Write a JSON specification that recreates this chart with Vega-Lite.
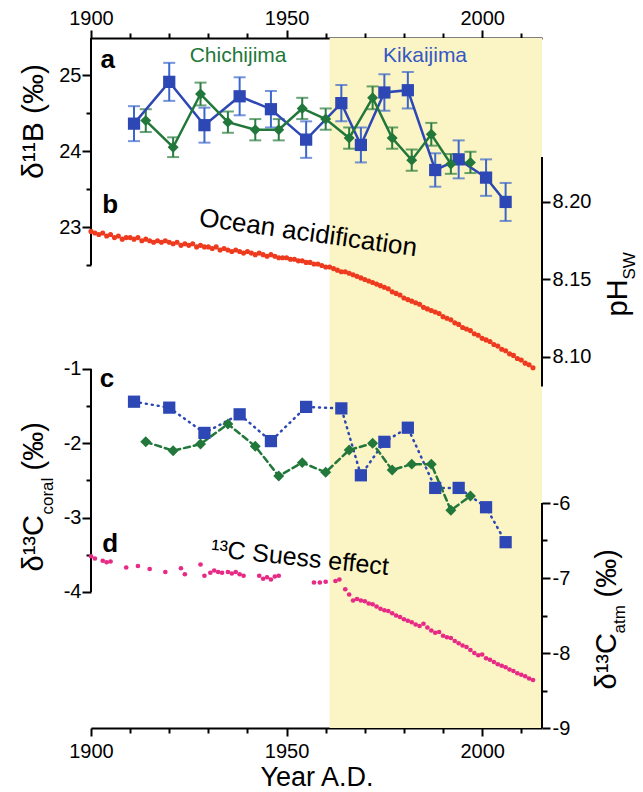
{
  "$schema": "https://vega.github.io/schema/vega-lite/v6.json",
  "width": 451,
  "height": 690,
  "autosize": {"type": "none"},
  "padding": {"left": 91, "top": 38, "right": 101, "bottom": 64},
  "background": "white",
  "config": {
    "font": "Liberation Sans",
    "view": {"stroke": null},
    "axis": {
      "domainColor": "black", "domainWidth": 2, "tickColor": "black", "tickWidth": 2,
      "labelFontSize": 20, "labelColor": "black", "labelFont": "Liberation Sans",
      "titleColor": "black", "titleFont": "Liberation Sans", "titleFontWeight": "normal",
      "grid": false, "labelOverlap": false, "labelFlush": false
    }
  },
  "datasets": {
    "boron": [
      {"site": "Kikaijima", "year": 1911, "v": 24.36, "err": 0.23},
      {"site": "Kikaijima", "year": 1920, "v": 24.91, "err": 0.25},
      {"site": "Kikaijima", "year": 1929, "v": 24.34, "err": 0.23},
      {"site": "Kikaijima", "year": 1938, "v": 24.72, "err": 0.25},
      {"site": "Kikaijima", "year": 1946, "v": 24.55, "err": 0.24},
      {"site": "Kikaijima", "year": 1955, "v": 24.15, "err": 0.24},
      {"site": "Kikaijima", "year": 1964, "v": 24.63, "err": 0.24},
      {"site": "Kikaijima", "year": 1969, "v": 24.08, "err": 0.23},
      {"site": "Kikaijima", "year": 1975, "v": 24.77, "err": 0.24},
      {"site": "Kikaijima", "year": 1981, "v": 24.8, "err": 0.24},
      {"site": "Kikaijima", "year": 1988, "v": 23.75, "err": 0.22},
      {"site": "Kikaijima", "year": 1994, "v": 23.89, "err": 0.25},
      {"site": "Kikaijima", "year": 2001, "v": 23.65, "err": 0.24},
      {"site": "Kikaijima", "year": 2006, "v": 23.33, "err": 0.25},
      {"site": "Chichijima", "year": 1914, "v": 24.4, "err": 0.15},
      {"site": "Chichijima", "year": 1921, "v": 24.05, "err": 0.13},
      {"site": "Chichijima", "year": 1928, "v": 24.75, "err": 0.15},
      {"site": "Chichijima", "year": 1935, "v": 24.38, "err": 0.14},
      {"site": "Chichijima", "year": 1942, "v": 24.28, "err": 0.14},
      {"site": "Chichijima", "year": 1948, "v": 24.28, "err": 0.14},
      {"site": "Chichijima", "year": 1954, "v": 24.56, "err": 0.14},
      {"site": "Chichijima", "year": 1960, "v": 24.42, "err": 0.14},
      {"site": "Chichijima", "year": 1966, "v": 24.17, "err": 0.14},
      {"site": "Chichijima", "year": 1972, "v": 24.7, "err": 0.15},
      {"site": "Chichijima", "year": 1977, "v": 24.17, "err": 0.14},
      {"site": "Chichijima", "year": 1982, "v": 23.88, "err": 0.14},
      {"site": "Chichijima", "year": 1987, "v": 24.22, "err": 0.15},
      {"site": "Chichijima", "year": 1992, "v": 23.83, "err": 0.13},
      {"site": "Chichijima", "year": 1997, "v": 23.85, "err": 0.14}
    ],
    "coral": [
      {"site": "Kikaijima", "year": 1911, "v": -1.44},
      {"site": "Kikaijima", "year": 1920, "v": -1.52},
      {"site": "Kikaijima", "year": 1929, "v": -1.86},
      {"site": "Kikaijima", "year": 1938, "v": -1.61},
      {"site": "Kikaijima", "year": 1946, "v": -1.97},
      {"site": "Kikaijima", "year": 1955, "v": -1.51},
      {"site": "Kikaijima", "year": 1964, "v": -1.53},
      {"site": "Kikaijima", "year": 1969, "v": -2.43},
      {"site": "Kikaijima", "year": 1975, "v": -1.98},
      {"site": "Kikaijima", "year": 1981, "v": -1.79},
      {"site": "Kikaijima", "year": 1988, "v": -2.6},
      {"site": "Kikaijima", "year": 1994, "v": -2.6},
      {"site": "Kikaijima", "year": 2001, "v": -2.86},
      {"site": "Kikaijima", "year": 2006, "v": -3.33},
      {"site": "Chichijima", "year": 1914, "v": -1.98},
      {"site": "Chichijima", "year": 1921, "v": -2.1},
      {"site": "Chichijima", "year": 1928, "v": -2.01},
      {"site": "Chichijima", "year": 1935, "v": -1.74},
      {"site": "Chichijima", "year": 1942, "v": -2.04},
      {"site": "Chichijima", "year": 1948, "v": -2.44},
      {"site": "Chichijima", "year": 1954, "v": -2.26},
      {"site": "Chichijima", "year": 1960, "v": -2.39},
      {"site": "Chichijima", "year": 1966, "v": -2.09},
      {"site": "Chichijima", "year": 1972, "v": -2.0},
      {"site": "Chichijima", "year": 1977, "v": -2.36},
      {"site": "Chichijima", "year": 1982, "v": -2.28},
      {"site": "Chichijima", "year": 1987, "v": -2.28},
      {"site": "Chichijima", "year": 1992, "v": -2.9},
      {"site": "Chichijima", "year": 1997, "v": -2.71}
    ],
    "ph": [
      {"year": 1900, "ph": 8.181}, {"year": 1901, "ph": 8.18}, {"year": 1902, "ph": 8.179}, {"year": 1903, "ph": 8.18},
      {"year": 1904, "ph": 8.178}, {"year": 1905, "ph": 8.179}, {"year": 1906, "ph": 8.177}, {"year": 1907, "ph": 8.178},
      {"year": 1908, "ph": 8.176}, {"year": 1909, "ph": 8.177}, {"year": 1910, "ph": 8.177}, {"year": 1911, "ph": 8.176},
      {"year": 1912, "ph": 8.177}, {"year": 1913, "ph": 8.175}, {"year": 1914, "ph": 8.176}, {"year": 1915, "ph": 8.175},
      {"year": 1916, "ph": 8.174}, {"year": 1917, "ph": 8.175}, {"year": 1918, "ph": 8.174}, {"year": 1919, "ph": 8.175},
      {"year": 1920, "ph": 8.174}, {"year": 1921, "ph": 8.173}, {"year": 1922, "ph": 8.174}, {"year": 1923, "ph": 8.172},
      {"year": 1924, "ph": 8.173}, {"year": 1925, "ph": 8.172}, {"year": 1926, "ph": 8.173}, {"year": 1927, "ph": 8.171},
      {"year": 1928, "ph": 8.172}, {"year": 1929, "ph": 8.171}, {"year": 1930, "ph": 8.171}, {"year": 1931, "ph": 8.17},
      {"year": 1932, "ph": 8.171}, {"year": 1933, "ph": 8.169}, {"year": 1934, "ph": 8.17}, {"year": 1935, "ph": 8.169},
      {"year": 1936, "ph": 8.168}, {"year": 1937, "ph": 8.169}, {"year": 1938, "ph": 8.168}, {"year": 1939, "ph": 8.167},
      {"year": 1940, "ph": 8.168}, {"year": 1941, "ph": 8.167}, {"year": 1942, "ph": 8.166}, {"year": 1943, "ph": 8.167},
      {"year": 1944, "ph": 8.166}, {"year": 1945, "ph": 8.165}, {"year": 1946, "ph": 8.166}, {"year": 1947, "ph": 8.165},
      {"year": 1948, "ph": 8.164}, {"year": 1949, "ph": 8.164}, {"year": 1950, "ph": 8.164}, {"year": 1951, "ph": 8.163},
      {"year": 1952, "ph": 8.163}, {"year": 1953, "ph": 8.162}, {"year": 1954, "ph": 8.162}, {"year": 1955, "ph": 8.161},
      {"year": 1956, "ph": 8.161}, {"year": 1957, "ph": 8.16}, {"year": 1958, "ph": 8.16}, {"year": 1959, "ph": 8.159},
      {"year": 1960, "ph": 8.158}, {"year": 1961, "ph": 8.158}, {"year": 1962, "ph": 8.157}, {"year": 1963, "ph": 8.156},
      {"year": 1964, "ph": 8.155}, {"year": 1965, "ph": 8.155}, {"year": 1966, "ph": 8.154}, {"year": 1967, "ph": 8.153},
      {"year": 1968, "ph": 8.152}, {"year": 1969, "ph": 8.151}, {"year": 1970, "ph": 8.15}, {"year": 1971, "ph": 8.149},
      {"year": 1972, "ph": 8.148}, {"year": 1973, "ph": 8.147}, {"year": 1974, "ph": 8.146}, {"year": 1975, "ph": 8.145},
      {"year": 1976, "ph": 8.144}, {"year": 1977, "ph": 8.142}, {"year": 1978, "ph": 8.141}, {"year": 1979, "ph": 8.14},
      {"year": 1980, "ph": 8.138}, {"year": 1981, "ph": 8.137}, {"year": 1982, "ph": 8.136}, {"year": 1983, "ph": 8.135},
      {"year": 1984, "ph": 8.134}, {"year": 1985, "ph": 8.132}, {"year": 1986, "ph": 8.131}, {"year": 1987, "ph": 8.13},
      {"year": 1988, "ph": 8.129}, {"year": 1989, "ph": 8.128}, {"year": 1990, "ph": 8.126}, {"year": 1991, "ph": 8.125},
      {"year": 1992, "ph": 8.124}, {"year": 1993, "ph": 8.122}, {"year": 1994, "ph": 8.121}, {"year": 1995, "ph": 8.119},
      {"year": 1996, "ph": 8.118}, {"year": 1997, "ph": 8.117}, {"year": 1998, "ph": 8.115}, {"year": 1999, "ph": 8.114},
      {"year": 2000, "ph": 8.112}, {"year": 2001, "ph": 8.111}, {"year": 2002, "ph": 8.11}, {"year": 2003, "ph": 8.108},
      {"year": 2004, "ph": 8.107}, {"year": 2005, "ph": 8.105}, {"year": 2006, "ph": 8.104}, {"year": 2007, "ph": 8.102},
      {"year": 2008, "ph": 8.101}, {"year": 2009, "ph": 8.099}, {"year": 2010, "ph": 8.098}, {"year": 2011, "ph": 8.096},
      {"year": 2012, "ph": 8.095}, {"year": 2013, "ph": 8.093}
    ],
    "atm": [
      {"year": 1900, "v": -6.71}, {"year": 1901, "v": -6.74}, {"year": 1903, "v": -6.77}, {"year": 1904, "v": -6.79},
      {"year": 1905, "v": -6.78}, {"year": 1909, "v": -6.86}, {"year": 1912, "v": -6.84}, {"year": 1915, "v": -6.88},
      {"year": 1919, "v": -6.92}, {"year": 1923, "v": -6.87}, {"year": 1924, "v": -6.95}, {"year": 1928, "v": -6.82},
      {"year": 1929, "v": -6.97}, {"year": 1930.5, "v": -6.93}, {"year": 1931.5, "v": -6.9}, {"year": 1932.5, "v": -6.92},
      {"year": 1933.5, "v": -6.93}, {"year": 1935, "v": -6.92}, {"year": 1936, "v": -6.94}, {"year": 1937, "v": -6.92},
      {"year": 1938, "v": -6.95}, {"year": 1939, "v": -6.97}, {"year": 1943, "v": -6.97}, {"year": 1944, "v": -7.01},
      {"year": 1945, "v": -6.99}, {"year": 1946, "v": -7.02}, {"year": 1947, "v": -6.98}, {"year": 1948, "v": -6.97},
      {"year": 1957, "v": -7.06}, {"year": 1958.5, "v": -7.06}, {"year": 1960, "v": -7.05}, {"year": 1962.5, "v": -7.04},
      {"year": 1963.5, "v": -7.02}, {"year": 1965, "v": -7.15}, {"year": 1966, "v": -7.22}, {"year": 1967, "v": -7.3},
      {"year": 1968, "v": -7.28}, {"year": 1969, "v": -7.3}, {"year": 1970, "v": -7.31}, {"year": 1971, "v": -7.34},
      {"year": 1972, "v": -7.35}, {"year": 1973, "v": -7.38}, {"year": 1974, "v": -7.41}, {"year": 1975, "v": -7.43},
      {"year": 1976, "v": -7.44}, {"year": 1977, "v": -7.47}, {"year": 1978, "v": -7.5}, {"year": 1979, "v": -7.52},
      {"year": 1980, "v": -7.55}, {"year": 1981, "v": -7.57}, {"year": 1982, "v": -7.59}, {"year": 1983, "v": -7.62},
      {"year": 1984, "v": -7.64}, {"year": 1985, "v": -7.61}, {"year": 1986, "v": -7.66}, {"year": 1987, "v": -7.7},
      {"year": 1988, "v": -7.73}, {"year": 1989, "v": -7.72}, {"year": 1990, "v": -7.77}, {"year": 1991, "v": -7.79},
      {"year": 1992, "v": -7.8}, {"year": 1993, "v": -7.84}, {"year": 1994, "v": -7.87}, {"year": 1995, "v": -7.9},
      {"year": 1996, "v": -7.92}, {"year": 1997, "v": -7.96}, {"year": 1998, "v": -8.0}, {"year": 1999, "v": -8.03},
      {"year": 2000, "v": -8.02}, {"year": 2001, "v": -8.07}, {"year": 2002, "v": -8.09}, {"year": 2003, "v": -8.12},
      {"year": 2004, "v": -8.15}, {"year": 2005, "v": -8.17}, {"year": 2006, "v": -8.19}, {"year": 2007, "v": -8.22},
      {"year": 2008, "v": -8.24}, {"year": 2009, "v": -8.27}, {"year": 2010, "v": -8.29}, {"year": 2011, "v": -8.31},
      {"year": 2012, "v": -8.34}, {"year": 2013, "v": -8.36}
    ]
  },
  "resolve": {"scale": {"y": "independent"}, "axis": {"y": "independent", "x": "independent"}},
  "layer": [
    {
      "data": {"values": [{"start": 1961, "end": 2015.3}]},
      "mark": {"type": "rect", "color": "#fbf4c4"},
      "encoding": {
        "x": {"field": "start", "type": "quantitative",
          "scale": {"domain": [1900, 2015.3], "nice": false, "zero": false},
          "axis": {"orient": "bottom", "values": [1900, 1910, 1920, 1930, 1940, 1950, 1960, 1970, 1980, 1990, 2000, 2010],
            "labelExpr": "datum.value % 50 === 0 ? '' + datum.value : ''",
            "tickSize": {"condition": {"test": "datum.value % 50 === 0", "value": 8}, "value": 5},
            "labelPadding": 5, "title": "Year A.D.", "titleFontSize": 27, "titlePadding": 3}},
        "x2": {"field": "end"}
      }
    },
    {
      "data": {"name": "boron"},
      "encoding": {
        "x": {"field": "year", "type": "quantitative",
          "scale": {"domain": [1900, 2015.3], "nice": false, "zero": false},
          "axis": {"orient": "top", "values": [1900, 1910, 1920, 1930, 1940, 1950, 1960, 1970, 1980, 1990, 2000, 2010],
            "labelExpr": "datum.value % 50 === 0 ? '' + datum.value : ''",
            "tickSize": {"condition": {"test": "datum.value % 50 === 0", "value": 8}, "value": 5},
            "labelPadding": 2, "title": null}},
        "y": {"field": "v", "type": "quantitative",
          "scale": {"domain": [16.408, 25.487], "nice": false, "zero": false},
          "axis": {"orient": "left", "values": [22.5, 23, 23.5, 24, 24.5, 25],
            "labelExpr": "datum.value % 1 === 0 ? '' + datum.value : ''",
            "tickSize": {"condition": {"test": "datum.value % 1 === 0", "value": 9}, "value": 5},
            "domain": false, "labelPadding": 1,
            "title": "δ¹¹B (‰)", "titleFontSize": 30, "titleAngle": 270, "titleAlign": "center",
            "titleBaseline": "alphabetic", "titleX": -49, "titleY": 83}}
      },
      "layer": [
        {"transform": [{"filter": "datum.site === 'Chichijima'"}],
         "mark": {"type": "errorbar", "thickness": 2, "color": "#2a7d3f", "ticks": {"size": 12, "thickness": 2}},
         "encoding": {"yError": {"field": "err"}}},
        {"transform": [{"filter": "datum.site === 'Kikaijima'"}],
         "mark": {"type": "errorbar", "thickness": 2, "color": "#3b66cc", "ticks": {"size": 12, "thickness": 2}},
         "encoding": {"yError": {"field": "err"}}},
        {"mark": {"type": "line", "strokeWidth": 2.5},
         "encoding": {"color": {"field": "site", "type": "nominal", "scale": {"domain": ["Chichijima", "Kikaijima"], "range": ["#22773a", "#2d48b4"]}, "legend": null}}},
        {"mark": {"type": "point", "filled": true, "opacity": 1},
         "encoding": {
           "color": {"field": "site", "type": "nominal", "legend": null},
           "shape": {"field": "site", "type": "nominal", "scale": {"domain": ["Chichijima", "Kikaijima"], "range": ["diamond", "square"]}, "legend": null},
           "size": {"field": "site", "type": "nominal", "scale": {"domain": ["Chichijima", "Kikaijima"], "range": [120, 150]}, "legend": null}}},
        {"data": {"values": [{"year": 1900, "v": 22.5, "v2": 25.487}]},
         "mark": {"type": "rule", "strokeWidth": 2, "color": "black"},
         "encoding": {"y2": {"field": "v2"}}},
        {"data": {"values": [{"year": 1904.3, "v": 25.2, "label": "a"}, {"year": 1904.9, "v": 23.29, "label": "b"}]},
         "mark": {"type": "text", "fontSize": 26, "fontWeight": "bold", "color": "black", "baseline": "middle", "align": "center"},
         "encoding": {"text": {"field": "label"}}},
        {"data": {"values": [{"year": 1937.6, "v": 25.25, "label": "Chichijima"}]},
         "mark": {"type": "text", "fontSize": 21, "color": "#22773a", "baseline": "middle", "align": "center"},
         "encoding": {"text": {"field": "label"}}},
        {"data": {"values": [{"year": 1985.4, "v": 25.25, "label": "Kikaijima"}]},
         "mark": {"type": "text", "fontSize": 21, "color": "#3558c4", "baseline": "middle", "align": "center"},
         "encoding": {"text": {"field": "label"}}},
        {"data": {"values": [{"year": 1955.5, "v": 22.92, "label": "Ocean acidification"}]},
         "mark": {"type": "text", "fontSize": 26, "color": "black", "baseline": "middle", "align": "center", "angle": 8},
         "encoding": {"text": {"field": "label"}}}
      ]
    },
    {
      "data": {"name": "ph"},
      "encoding": {
        "x": {"field": "year", "type": "quantitative", "axis": null},
        "y": {"field": "ph", "type": "quantitative",
          "scale": {"domain": [7.8606, 8.3058], "nice": false, "zero": false},
          "axis": {"orient": "right", "values": [8.1, 8.15, 8.2], "format": ".2f", "tickSize": 8,
            "domain": false, "labelPadding": 2,
            "title": "pH", "titleFontSize": 29, "titleAngle": 270, "titleAlign": "left",
            "titleBaseline": "alphabetic", "titleX": 84, "titleY": 278}}
      },
      "layer": [
        {"mark": {"type": "circle", "size": 26, "color": "#ee3a1e", "opacity": 1}},
        {"data": {"values": [{"year": 2015.3, "ph": 8.081, "ph2": 8.229}]},
         "mark": {"type": "rule", "strokeWidth": 2, "color": "black"},
         "encoding": {"y2": {"field": "ph2"}}}
      ]
    },
    {
      "data": {"name": "coral"},
      "encoding": {
        "x": {"field": "year", "type": "quantitative", "axis": null},
        "y": {"field": "v", "type": "quantitative",
          "scale": {"domain": [-5.83, 3.453], "nice": false, "zero": false},
          "axis": {"orient": "left", "values": [-4, -3.5, -3, -2.5, -2, -1.5, -1],
            "labelExpr": "datum.value % 1 === 0 ? '' + datum.value : ''",
            "tickSize": {"condition": {"test": "datum.value % 1 === 0", "value": 9}, "value": 5},
            "domain": false, "labelPadding": 1,
            "title": "δ¹³C", "titleFontSize": 29, "titleAngle": 270, "titleAlign": "left",
            "titleBaseline": "alphabetic", "titleX": -49, "titleY": 533}}
      },
      "layer": [
        {"mark": {"type": "line", "strokeWidth": 2.5, "strokeCap": "round"},
         "encoding": {
           "color": {"field": "site", "type": "nominal", "scale": {"domain": ["Chichijima", "Kikaijima"], "range": ["#22773a", "#2d48b4"]}, "legend": null},
           "strokeDash": {"field": "site", "type": "nominal", "scale": {"domain": ["Chichijima", "Kikaijima"], "range": [[6, 4], [1, 5]]}, "legend": null}}},
        {"mark": {"type": "point", "filled": true, "opacity": 1},
         "encoding": {
           "color": {"field": "site", "type": "nominal", "legend": null},
           "shape": {"field": "site", "type": "nominal", "scale": {"domain": ["Chichijima", "Kikaijima"], "range": ["diamond", "square"]}, "legend": null},
           "size": {"field": "site", "type": "nominal", "scale": {"domain": ["Chichijima", "Kikaijima"], "range": [130, 160]}, "legend": null}}},
        {"data": {"values": [{"year": 1900, "v": -4, "v2": -1}]},
         "mark": {"type": "rule", "strokeWidth": 2, "color": "black"},
         "encoding": {"y2": {"field": "v2"}}},
        {"data": {"values": [{"year": 1904.1, "v": -1.13, "label": "c"}, {"year": 1904.9, "v": -3.35, "label": "d"}]},
         "mark": {"type": "text", "fontSize": 26, "fontWeight": "bold", "color": "black", "baseline": "middle", "align": "center"},
         "encoding": {"text": {"field": "label"}}},
        {"data": {"values": [{"year": 1953.4, "v": -3.54, "label": "¹³C Suess effect"}]},
         "mark": {"type": "text", "fontSize": 25, "color": "black", "baseline": "middle", "align": "center", "angle": 6},
         "encoding": {"text": {"field": "label"}}}
      ]
    },
    {
      "data": {"name": "atm"},
      "encoding": {
        "x": {"field": "year", "type": "quantitative", "axis": null},
        "y": {"field": "v", "type": "quantitative",
          "scale": {"domain": [-9, 0.2], "nice": false, "zero": false},
          "axis": {"orient": "right", "values": [-9, -8.5, -8, -7.5, -7, -6.5, -6],
            "labelExpr": "datum.value % 1 === 0 ? '' + datum.value : ''",
            "tickSize": {"condition": {"test": "datum.value % 1 === 0", "value": 8}, "value": 5},
            "domain": false, "labelPadding": 2,
            "title": "δ¹³C", "titleFontSize": 29, "titleAngle": 270, "titleAlign": "left",
            "titleBaseline": "alphabetic", "titleX": 73, "titleY": 651}}
      },
      "layer": [
        {"mark": {"type": "circle", "size": 22, "color": "#e62a86", "opacity": 1}},
        {"data": {"values": [{"year": 2015.3, "v": -9, "v2": -6}]},
         "mark": {"type": "rule", "strokeWidth": 2, "color": "black"},
         "encoding": {"y2": {"field": "v2"}}}
      ]
    },
    {
      "data": {"values": [{"d": 0}]},
      "mark": {"type": "point", "opacity": 0},
      "encoding": {"y": {"field": "d", "type": "quantitative", "scale": {"domain": [0, 1]},
        "axis": {"orient": "left", "labels": false, "ticks": false, "domain": false,
          "title": "coral", "titleFontSize": 17, "titleAngle": 270, "titleAlign": "left",
          "titleBaseline": "alphabetic", "titleX": -39, "titleY": 476}}}
    },
    {
      "data": {"values": [{"d": 0}]},
      "mark": {"type": "point", "opacity": 0},
      "encoding": {"y": {"field": "d", "type": "quantitative", "scale": {"domain": [0, 1]},
        "axis": {"orient": "left", "labels": false, "ticks": false, "domain": false,
          "title": "(‰)", "titleFontSize": 29, "titleAngle": 270, "titleAlign": "left",
          "titleBaseline": "alphabetic", "titleX": -49, "titleY": 432}}}
    },
    {
      "data": {"values": [{"d": 0}]},
      "mark": {"type": "point", "opacity": 0},
      "encoding": {"y": {"field": "d", "type": "quantitative", "scale": {"domain": [0, 1]},
        "axis": {"orient": "right", "labels": false, "ticks": false, "domain": false,
          "title": "SW", "titleFontSize": 17, "titleAngle": 270, "titleAlign": "left",
          "titleBaseline": "alphabetic", "titleX": 92, "titleY": 241}}}
    },
    {
      "data": {"values": [{"d": 0}]},
      "mark": {"type": "point", "opacity": 0},
      "encoding": {"y": {"field": "d", "type": "quantitative", "scale": {"domain": [0, 1]},
        "axis": {"orient": "right", "labels": false, "ticks": false, "domain": false,
          "title": "atm", "titleFontSize": 17, "titleAngle": 270, "titleAlign": "left",
          "titleBaseline": "alphabetic", "titleX": 82, "titleY": 595}}}
    },
    {
      "data": {"values": [{"d": 0}]},
      "mark": {"type": "point", "opacity": 0},
      "encoding": {"y": {"field": "d", "type": "quantitative", "scale": {"domain": [0, 1]},
        "axis": {"orient": "right", "labels": false, "ticks": false, "domain": false,
          "title": "(‰)", "titleFontSize": 29, "titleAngle": 270, "titleAlign": "left",
          "titleBaseline": "alphabetic", "titleX": 73, "titleY": 559}}}
    }
  ]
}
